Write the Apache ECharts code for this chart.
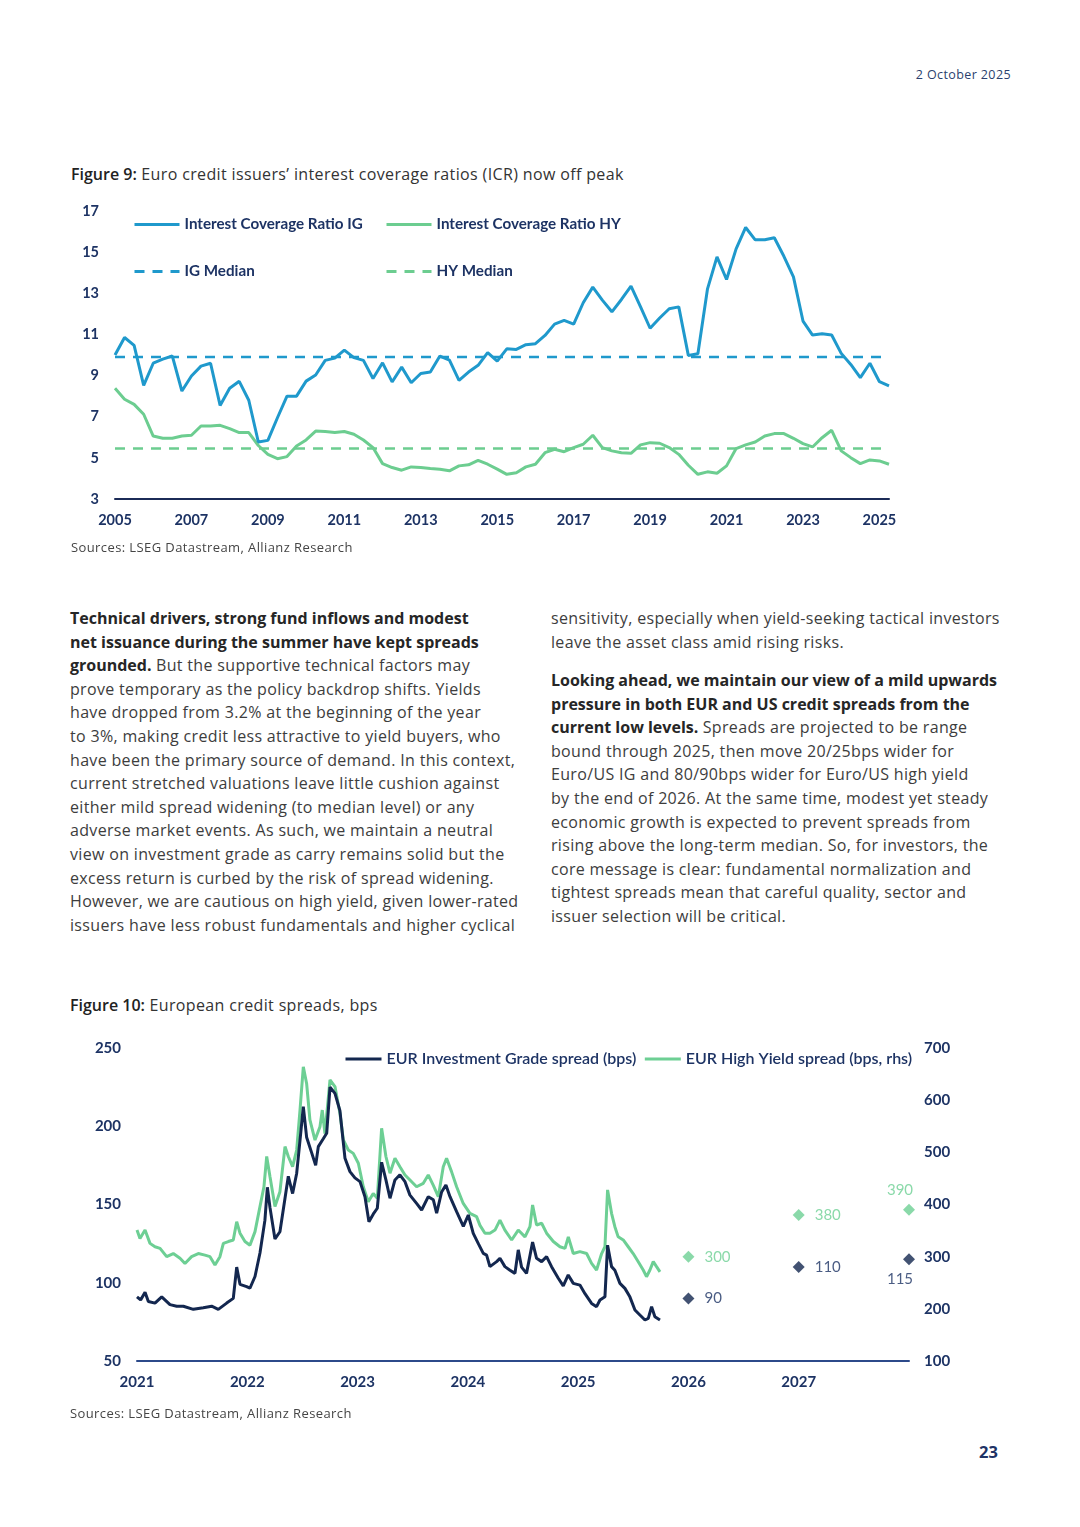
<!DOCTYPE html>
<html><head><meta charset="utf-8">
<script src="https://cdn.jsdelivr.net/npm/echarts@6/dist/echarts.min.js"></script>
<style>
html,body{margin:0;padding:0;background:#fff;}
body{width:1080px;height:1527px;position:relative;overflow:hidden;font-family:"Open Sans",Lato,sans-serif;color:#3a3a3a;}
.abs{position:absolute;white-space:nowrap;}
.date{right:69px;top:66px;font-size:12.5px;letter-spacing:0.4px;color:#2b3f6e;}
.title{font-size:16px;color:#333;letter-spacing:0.36px;}
.title b{color:#222;font-weight:600;letter-spacing:0;}
.src{font-size:13px;color:#454545;letter-spacing:0.4px;}
.col{font-size:16px;line-height:23.6px;color:#3d3d3d;letter-spacing:0.33px;}
.col b{color:#262626;letter-spacing:0;}
.page{left:979px;top:1440px;font-size:16.5px;font-weight:bold;color:#1f3466;}
#c1{position:absolute;left:0;top:195px;width:1080px;height:345px;}
#c2{position:absolute;left:0;top:1030px;width:1080px;height:375px;}
</style></head>
<body>
<div class="abs date">2 October 2025</div>
<div class="abs title" style="left:71px;top:163px;"><b>Figure 9:</b> Euro credit issuers’ interest coverage ratios (ICR) now off peak</div>
<div id="c1"></div>
<div class="abs src" style="left:71px;top:538px;">Sources: LSEG Datastream, Allianz Research</div>

<div class="abs col" style="left:70px;top:607px;">
<b>Technical drivers, strong fund inflows and modest</b><br>
<b>net issuance during the summer have kept spreads</b><br>
<b>grounded.</b> But the supportive technical factors may<br>
prove temporary as the policy backdrop shifts. Yields<br>
have dropped from 3.2% at the beginning of the year<br>
to 3%, making credit less attractive to yield buyers, who<br>
have been the primary source of demand. In this context,<br>
current stretched valuations leave little cushion against<br>
either mild spread widening (to median level) or any<br>
adverse market events. As such, we maintain a neutral<br>
view on investment grade as carry remains solid but the<br>
excess return is curbed by the risk of spread widening.<br>
However, we are cautious on high yield, given lower-rated<br>
issuers have less robust fundamentals and higher cyclical
</div>
<div class="abs col" style="left:551px;top:607px;">
sensitivity, especially when yield-seeking tactical investors<br>
leave the asset class amid rising risks.
</div>
<div class="abs col" style="left:551px;top:669px;">
<b>Looking ahead, we maintain our view of a mild upwards</b><br>
<b>pressure in both EUR and US credit spreads from the</b><br>
<b>current low levels.</b> Spreads are projected to be range<br>
bound through 2025, then move 20/25bps wider for<br>
Euro/US IG and 80/90bps wider for Euro/US high yield<br>
by the end of 2026. At the same time, modest yet steady<br>
economic growth is expected to prevent spreads from<br>
rising above the long-term median. So, for investors, the<br>
core message is clear: fundamental normalization and<br>
tightest spreads mean that careful quality, sector and<br>
issuer selection will be critical.
</div>

<div class="abs title" style="left:70px;top:994px;"><b>Figure 10:</b> European credit spreads, bps</div>
<div id="c2"></div>
<div class="abs src" style="left:70px;top:1404px;">Sources: LSEG Datastream, Allianz Research</div>
<div class="abs page">23</div>

<script>
// ---------- Figure 9 data (quarterly, 2005Q1 - 2025Q2) ----------
const icrYears = [2005,2006,2007,2008,2009,2010,2011,2012,2013,2014,2015,2016,2017,2018,2019,2020,2021,2022,2023,2024,2025];
const icrQuarters = [];
icrYears.forEach(y => ['Q1','Q2','Q3','Q4'].forEach(q => icrQuarters.push(y + q)));
const icrCategories = icrQuarters.slice(0, 82);
const icrIG = [10.0,10.85,10.47,8.52,9.6,9.8,9.95,8.25,8.98,9.46,
  9.6,7.55,8.38,8.72,7.8,5.77,5.85,6.95,8.0,8.0,
  8.73,9.03,9.74,9.85,10.24,9.87,9.74,8.86,9.62,8.69,
  9.41,8.65,9.1,9.17,9.95,9.75,8.77,9.17,9.5,10.12,
  9.7,10.3,10.27,10.5,10.55,10.95,11.5,11.68,11.5,12.54,
  13.3,12.67,12.1,12.7,13.35,12.34,11.3,11.8,12.25,12.34,
  9.98,10.06,13.2,14.77,13.67,15.16,16.2,15.6,15.6,15.7,
  14.8,13.8,11.65,10.97,11.03,10.97,10.08,9.54,8.9,9.6,
  8.7,8.5];
const icrHY = [8.38,7.85,7.6,7.12,6.06,5.95,5.95,6.06,6.1,6.55,
  6.55,6.58,6.42,6.23,6.23,5.6,5.17,4.96,5.06,5.58,
  5.87,6.3,6.28,6.23,6.28,6.15,5.87,5.5,4.72,4.53,
  4.4,4.56,4.53,4.48,4.45,4.37,4.61,4.66,4.88,4.69,
  4.45,4.2,4.28,4.56,4.69,5.25,5.42,5.3,5.5,5.66,
  6.1,5.5,5.34,5.25,5.22,5.63,5.74,5.71,5.5,5.17,
  4.64,4.2,4.32,4.25,4.61,5.45,5.63,5.77,6.06,6.18,
  6.18,5.95,5.69,5.53,5.98,6.34,5.34,5.01,4.72,4.9,
  4.85,4.69];
const icrIGMedian = 9.9;
const icrHYMedian = 5.45;

// ---------- Figure 10 data ([year, bps]) ----------
const igSpread = [[2021.000,91],[2021.033,89],[2021.073,94],[2021.103,88],[2021.163,87],[2021.224,91],[2021.299,86],[2021.360,85],[2021.420,85],[2021.511,83],[2021.601,84],[2021.677,85],[2021.737,83],[2021.813,87],[2021.873,90],[2021.904,110],[2021.934,99],[2021.994,97.5],[2022.024,96.5],[2022.070,104],[2022.115,119],[2022.160,140],[2022.182,161],[2022.206,148],[2022.251,128],[2022.296,132.6],[2022.342,154],[2022.372,168],[2022.411,157],[2022.448,170],[2022.478,191],[2022.508,212.5],[2022.538,193],[2022.584,183],[2022.620,175],[2022.644,187],[2022.689,192],[2022.720,195.5],[2022.750,225],[2022.795,221],[2022.840,210],[2022.886,179.5],[2022.931,171],[2022.976,167],[2023.022,164.6],[2023.067,155],[2023.103,139],[2023.143,144],[2023.179,147.6],[2023.218,177],[2023.257,165.7],[2023.294,154],[2023.339,165.7],[2023.384,169],[2023.430,164.6],[2023.475,156],[2023.535,150.7],[2023.581,146.5],[2023.641,155],[2023.687,153],[2023.717,144.4],[2023.762,158],[2023.801,162.5],[2023.838,155],[2023.898,145.4],[2023.959,136],[2024.004,143.3],[2024.049,131.6],[2024.095,125],[2024.140,118.8],[2024.170,117.7],[2024.200,110.3],[2024.261,113.5],[2024.291,115.6],[2024.336,110.3],[2024.382,108],[2024.427,106],[2024.457,121],[2024.487,110],[2024.532,106],[2024.587,126],[2024.623,115.6],[2024.669,113.5],[2024.714,116.7],[2024.759,110.3],[2024.820,102.9],[2024.865,98],[2024.910,105],[2024.956,99.6],[2025.016,98.5],[2025.062,93],[2025.122,86.8],[2025.167,84.7],[2025.198,89],[2025.243,91],[2025.267,124],[2025.303,110.3],[2025.333,108],[2025.379,99.6],[2025.424,96.4],[2025.469,91],[2025.515,82.6],[2025.560,79.4],[2025.606,76.2],[2025.636,77.2],[2025.666,84.7],[2025.696,78.3],[2025.742,76.2]];
const hySpread = [[2021.000,351],[2021.027,335],[2021.073,351],[2021.118,325.5],[2021.163,319],[2021.209,316],[2021.269,300],[2021.329,306],[2021.390,297],[2021.435,287],[2021.495,300],[2021.556,306],[2021.616,303],[2021.662,300],[2021.707,284],[2021.752,300],[2021.783,325.5],[2021.828,329],[2021.873,332],[2021.904,367],[2021.934,345],[2021.979,329],[2022.024,322],[2022.070,348],[2022.115,396],[2022.151,434],[2022.176,492],[2022.206,453],[2022.251,396],[2022.296,424.6],[2022.342,511],[2022.372,492],[2022.411,472.5],[2022.448,504.5],[2022.478,581],[2022.508,664],[2022.538,632],[2022.568,562],[2022.614,523.6],[2022.659,549],[2022.680,581],[2022.704,536],[2022.750,638.7],[2022.795,626],[2022.840,575],[2022.871,523.6],[2022.916,504.5],[2022.961,498],[2023.007,479],[2023.052,434],[2023.097,405.4],[2023.142,421],[2023.179,412],[2023.218,546],[2023.257,492],[2023.294,460],[2023.339,488.5],[2023.384,472.5],[2023.430,456.5],[2023.475,447],[2023.535,434],[2023.596,440.6],[2023.641,456.5],[2023.686,437],[2023.732,415],[2023.777,472.5],[2023.807,488.5],[2023.852,463],[2023.898,434],[2023.958,402],[2024.019,383],[2024.079,376.7],[2024.110,360],[2024.155,345],[2024.200,345],[2024.246,351],[2024.291,370],[2024.336,351],[2024.397,332],[2024.457,351],[2024.518,338],[2024.563,357.5],[2024.587,399],[2024.623,360.7],[2024.669,364],[2024.714,345],[2024.775,329],[2024.835,319],[2024.881,316],[2024.911,338],[2024.956,306],[2025.016,309.6],[2025.077,306],[2025.122,287],[2025.167,274.4],[2025.213,306],[2025.243,319],[2025.267,428],[2025.303,383],[2025.333,357.5],[2025.363,338],[2025.409,332],[2025.454,319],[2025.499,306],[2025.545,290.4],[2025.590,274.4],[2025.620,261.6],[2025.651,274.4],[2025.681,290.4],[2025.711,280.8],[2025.742,271]];
const igForecast = [[2026,90],[2027,110],[2028,115]];
const hyForecast = [[2026,300],[2027,380],[2028,390]];
const spreadYearLabels = ['2021','2022','2023','2024','2025','2026','2027'];

// ---------- styles ----------
const NAVY = '#1d3364';
const BLUE = '#1f99cc';
const GREEN = '#6ccd90';
const DARK = '#13274f';
const GREEN2 = '#6dcf94';
const FONT = 'Lato, "Open Sans", sans-serif';
const hiddenSymbol = {opacity:0, color:'rgba(0,0,0,0)', borderWidth:0};

const c1 = echarts.init(document.getElementById('c1'));
const legItem = (name, left, top) => ({
  data:[name], left:left, top:top, padding:0, itemWidth:45, itemHeight:14,
  itemStyle:hiddenSymbol, lineStyle:{width:3},
  textStyle:{color:NAVY, fontSize:15.2, fontFamily:FONT, fontWeight:'bold'}, selectedMode:false
});
c1.setOption({
  animation:false,
  textStyle:{fontFamily:FONT},
  grid:{left:115, right:191, top:16, bottom:41, containLabel:false},
  legend:[
    legItem('Interest Coverage Ratio IG',133,22),
    legItem('Interest Coverage Ratio HY',385,22),
    legItem('IG Median',133,69),
    legItem('HY Median',385,69)
  ],
  xAxis:{type:'category', data:icrCategories, boundaryGap:false,
    axisLine:{lineStyle:{color:'#1b2b57', width:2}}, axisTick:{show:false},
    axisLabel:{interval:7, formatter:v => v.slice(0,4), color:NAVY, fontSize:14.5, fontWeight:'bold', margin:14}},
  yAxis:{type:'value', min:3, max:17, interval:2,
    axisLine:{show:false}, axisTick:{show:false}, splitLine:{show:false},
    axisLabel:{color:NAVY, fontSize:14.5, fontWeight:'bold', margin:16}},
  series:[
    {name:'IG Median', type:'line', data:icrCategories.map(() => icrIGMedian), symbol:'none', z:1,
      lineStyle:{color:BLUE, width:2.5, type:[10,8]}, itemStyle:{color:BLUE}},
    {name:'HY Median', type:'line', data:icrCategories.map(() => icrHYMedian), symbol:'none', z:1,
      lineStyle:{color:GREEN, width:2.5, type:[10,8]}, itemStyle:{color:GREEN}},
    {name:'Interest Coverage Ratio HY', type:'line', data:icrHY, symbol:'none', z:2,
      lineStyle:{color:GREEN, width:3}, itemStyle:{color:GREEN}},
    {name:'Interest Coverage Ratio IG', type:'line', data:icrIG, symbol:'none', z:3,
      lineStyle:{color:BLUE, width:3}, itemStyle:{color:BLUE}}
  ]
});

const c2 = echarts.init(document.getElementById('c2'));
const fcLabel = (isIG, i) => i === 2
  ? {show:true, position: isIG ? 'bottom' : 'top', distance:6, offset:[-9,0], color: isIG ? NAVY : GREEN2, fontSize:15, fontFamily:FONT, formatter:p => p.value[1]}
  : {show:true, position:'right', distance:10, color: isIG ? NAVY : GREEN2, fontSize:15, fontFamily:FONT, formatter:p => p.value[1]};
c2.setOption({
  animation:false,
  textStyle:{fontFamily:FONT},
  grid:{left:137, right:171, top:18, bottom:44, containLabel:false},
  legend:{data:['EUR Investment Grade spread (bps)','EUR High Yield spread (bps, rhs)'],
    left:344, top:21, padding:0, itemWidth:36, itemHeight:14, itemGap:7, selectedMode:false,
    itemStyle:hiddenSymbol, lineStyle:{width:3},
    textStyle:{color:NAVY, fontSize:16, fontWeight:600, fontFamily:FONT}},
  xAxis:{type:'value', min:2021, max:2028, interval:1,
    axisLine:{lineStyle:{color:'#2c4a8a', width:2}}, axisTick:{show:false}, splitLine:{show:false},
    axisLabel:{color:NAVY, fontSize:15, fontWeight:'bold', margin:14,
      formatter:v => spreadYearLabels.includes(String(v)) ? String(v) : ''}},
  yAxis:[
    {type:'value', min:50, max:250, interval:50, axisLine:{show:false}, axisTick:{show:false}, splitLine:{show:false},
      axisLabel:{color:NAVY, fontSize:15, fontWeight:'bold', margin:16}},
    {type:'value', min:100, max:700, interval:100, position:'right', axisLine:{show:false}, axisTick:{show:false}, splitLine:{show:false},
      axisLabel:{color:NAVY, fontSize:15, fontWeight:'bold', margin:15}}
  ],
  series:[
    {name:'EUR High Yield spread (bps, rhs)', type:'line', yAxisIndex:1, data:hySpread, symbol:'none', z:2,
      lineStyle:{color:GREEN2, width:3}, itemStyle:{color:GREEN2}},
    {name:'EUR Investment Grade spread (bps)', type:'line', yAxisIndex:0, data:igSpread, symbol:'none', z:3,
      lineStyle:{color:DARK, width:3}, itemStyle:{color:DARK}},
    {name:'HY forecast', type:'scatter', yAxisIndex:1, symbol:'diamond', symbolSize:12,
      itemStyle:{color:GREEN2},
      data:hyForecast.map((d,i) => ({value:d, label:fcLabel(false,i)}))},
    {name:'IG forecast', type:'scatter', yAxisIndex:0, symbol:'diamond', symbolSize:12,
      itemStyle:{color:DARK},
      data:igForecast.map((d,i) => ({value:d, label:fcLabel(true,i)}))}
  ]
});
</script>
</body></html>
